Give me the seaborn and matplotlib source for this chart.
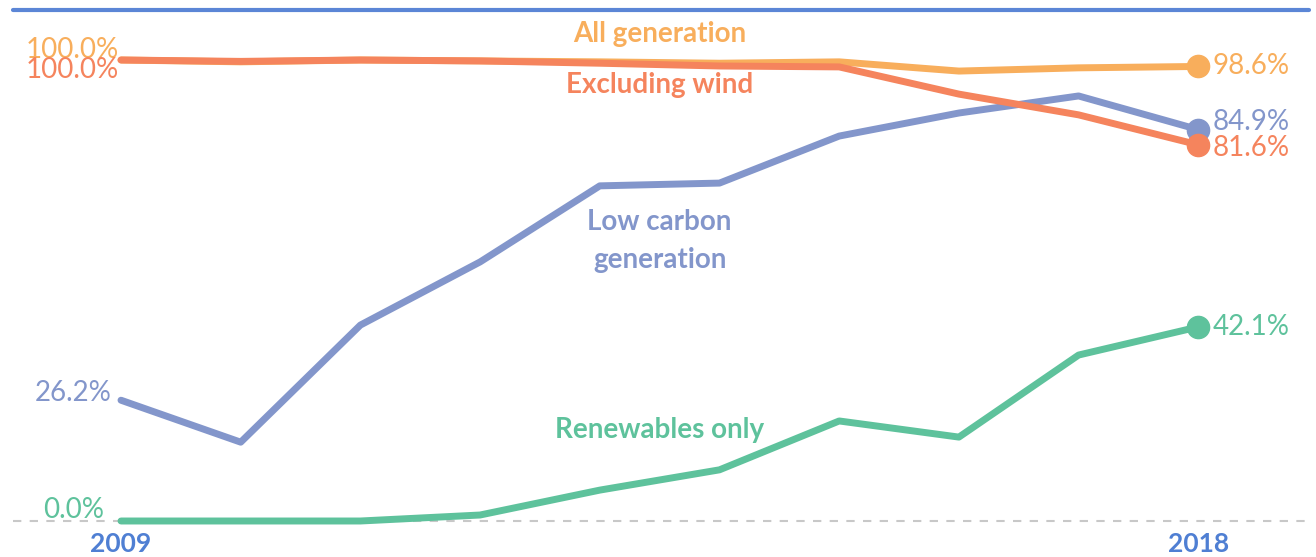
import numpy as np
import pandas as pd
import matplotlib.pyplot as plt
import seaborn as sns

years = list(range(2009, 2019))
all_generation = [100.0, 99.6, 100.0, 99.8, 99.6, 99.3, 99.6, 97.6, 98.3, 98.6]
excluding_wind = [100.0, 99.7, 100.0, 99.8, 99.3, 98.7, 98.5, 92.6, 88.1, 81.6]
low_carbon = [26.2, 17.1, 42.5, 56.2, 72.7, 73.3, 83.5, 88.5, 92.2, 84.9]
renewables = [0.0, 0.0, 0.0, 1.3, 6.7, 11.1, 21.7, 18.2, 36.0, 42.1]

series_names = ['All generation', 'Excluding wind', 'Low carbon', 'Renewables only']
colors = {'All generation': '#F8AE5C', 'Excluding wind': '#F5845D',
          'Low carbon': '#8396CB', 'Renewables only': '#5EC29C'}
year_blue = '#4F7FD3'

df = pd.DataFrame({'year': years * 4,
                   'share': all_generation + excluding_wind + low_carbon + renewables,
                   'series': [s for s in series_names for _ in years]})

sns.set_style('white')
plt.rcParams['font.family'] = ['Lato', 'DejaVu Sans']

fig = plt.figure(figsize=(13.16, 5.57), dpi=100)
ax = fig.add_axes([0, 0, 1, 1])

# zero reference line
ax.axhline(0, xmin=0.01, xmax=0.995, color='#C8C8C8', lw=1.5, ls=(0, (4, 4)), zorder=1)

# draw back to front so the orange lines sit on top
for name in ['Renewables only', 'Low carbon', 'All generation', 'Excluding wind']:
    sub = df[df['series'] == name]
    sns.lineplot(data=sub, x='year', y='share', color=colors[name], lw=5,
                 ax=ax, legend=False, zorder=3)
    ax.plot(sub['year'].iloc[-1], sub['share'].iloc[-1], 'o',
            color=colors[name], ms=16, zorder=4)

ax.set_xlim(2009 - 121 / 119.7, 2009 + (1316 - 121) / 119.7)
ax.set_ylim((521 - 557) / 4.61, 521 / 4.61)
ax.axis('off')

# top blue rule
ax.axhline((521 - 10) / 4.61, xmin=0.01, xmax=0.995, color='#5B86D6', lw=3)

fs = 20
# start labels (the two 100% labels overlap in the original too)
ax.text(2008.98, 102.2, f'{all_generation[0]:.1f}%', color=colors['All generation'],
        fontsize=fs, ha='right', va='center')
ax.text(2008.98, 97.8, f'{excluding_wind[0]:.1f}%', color=colors['Excluding wind'],
        fontsize=fs, ha='right', va='center')
ax.text(2008.92, low_carbon[0] + 1.6, f'{low_carbon[0]:.1f}%', color=colors['Low carbon'],
        fontsize=fs, ha='right', va='center')
ax.text(2008.86, renewables[0] + 2.4, f'{renewables[0]:.1f}%', color=colors['Renewables only'],
        fontsize=fs, ha='right', va='center')

# end labels
ax.text(2018.12, all_generation[-1], f'{all_generation[-1]:.1f}%',
        color=colors['All generation'], fontsize=fs, va='center')
ax.text(2018.12, low_carbon[-1] + 1.6, f'{low_carbon[-1]:.1f}%',
        color=colors['Low carbon'], fontsize=fs, va='center')
ax.text(2018.12, excluding_wind[-1] - 0.6, f'{excluding_wind[-1]:.1f}%',
        color=colors['Excluding wind'], fontsize=fs, va='center')
ax.text(2018.12, renewables[-1], f'{renewables[-1]:.1f}%',
        color=colors['Renewables only'], fontsize=fs, va='center')

# series names
ax.text(2013.5, (521 - 34) / 4.61, 'All generation', color=colors['All generation'],
        fontsize=fs, fontweight='bold', ha='center', va='center')
ax.text(2013.5, (521 - 85) / 4.61, 'Excluding wind', color=colors['Excluding wind'],
        fontsize=fs, fontweight='bold', ha='center', va='center')
ax.text(2013.5, (521 - 241) / 4.61, 'Low carbon\ngeneration', color=colors['Low carbon'],
        fontsize=fs, fontweight='bold', ha='center', va='center', linespacing=1.6)
ax.text(2013.5, (521 - 430) / 4.61, 'Renewables only', color=colors['Renewables only'],
        fontsize=fs, fontweight='bold', ha='center', va='center')

# year labels
for yr in [years[0], years[-1]]:
    ax.text(yr, (521 - 544) / 4.61, str(yr), color=year_blue, fontsize=19,
            fontweight='bold', ha='center', va='center')

fig.savefig('out.png', dpi=100)
